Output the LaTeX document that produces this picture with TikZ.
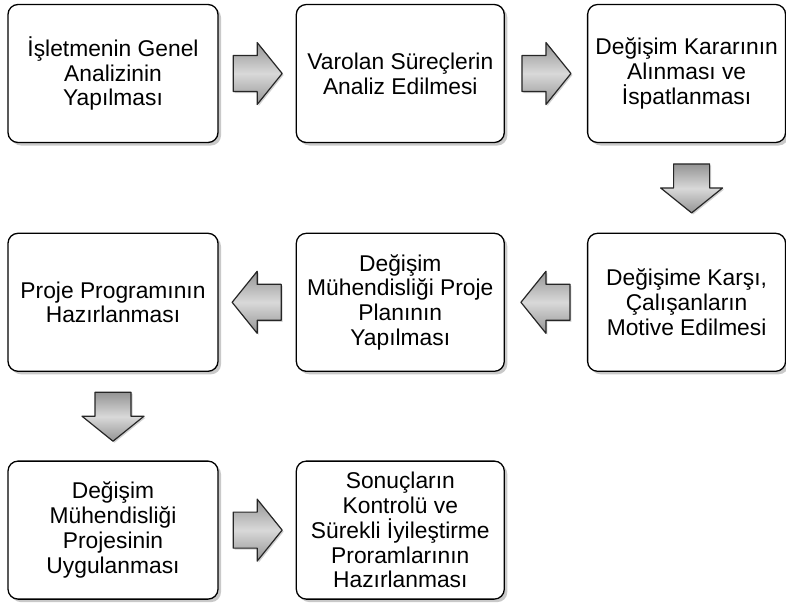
\documentclass[tikz,border=0pt]{standalone}
\usepackage{fontspec}
\setmainfont{Liberation Sans}
\usepackage{tikz}
\usetikzlibrary{positioning,calc,shadows}
\tikzset{
    %Define style for boxes
    kutu/.style={
           rectangle,
           rounded corners=10pt,
           draw=black, line width=1.3pt,
           fill=white,
           minimum width=208pt,
           minimum height=138pt,
           inner sep=2pt,
           align=center,
           font=\fontsize{22.8}{24.8}\selectfont,
           drop shadow={shadow xshift=3pt,shadow yshift=-3pt,fill=black!30,opacity=.7}},
    % Define block arrow style
    okblok/.style={
           draw=black!85, line width=1.2pt, line join=round,
           top color=black!42, bottom color=black!42, middle color=black!15,
           drop shadow={shadow xshift=1.5pt,shadow yshift=-1.5pt,fill=black!30,opacity=.6}},
    pics/okucu/.style={code={
           \path[okblok] (-24,-18) -- (0,-18) -- (0,-31) -- (25,0)
                 -- (0,31) -- (0,18) -- (-24,18) -- cycle;}}
}
\begin{document}
\begin{tikzpicture}[x=1pt,y=-1pt]
\useasboundingbox (0,0) rectangle (786,603);
\node[kutu, minimum width=210pt] (1) at (113,73.5) {İşletmenin Genel\\Analizinin\\Yapılması};
\node[kutu, right=77pt of 1] (2) {Varolan Süreçlerin\\Analiz Edilmesi};
\node[kutu, minimum width=198pt, right=82pt of 2] (3) {Değişim Kararının\\Alınması ve\\İspatlanması};
\node[kutu, minimum width=198pt, below=89.5pt of 3] (6) {Değişime Karşı,\\Çalışanların\\Motive Edilmesi};
\node[kutu, left=82pt of 6] (5) {Değişim\\Mühendisliği Proje\\Planının\\Yapılması};
\node[kutu, minimum width=210pt, left=77pt of 5] (4) {Proje Programının\\Hazırlanması};
\node[kutu, minimum width=210pt, below=88.5pt of 4] (7) {Değişim\\Mühendisliği\\Projesinin\\Uygulanması};
\node[kutu, right=77pt of 7] (8) {Sonuçların\\Kontrolü ve\\Sürekli İyileştirme\\Proramlarının\\Hazırlanması};
% arrows between boxes
\pic at ($(1.east)!.5!(2.west)$) {okucu};
\pic at ($(2.east)!.5!(3.west)$) {okucu};
\pic[rotate=-90] at ($(3.south)!.5!(6.north)+(5,0)$) {okucu};
\pic[rotate=180] at ($(6.west)!.5!(5.east)$) {okucu};
\pic[rotate=180] at ($(5.west)!.5!(4.east)$) {okucu};
\pic[rotate=-90] at ($(4.south)!.5!(7.north)$) {okucu};
\pic at ($(7.east)!.5!(8.west)$) {okucu};
\end{tikzpicture}
\end{document}
